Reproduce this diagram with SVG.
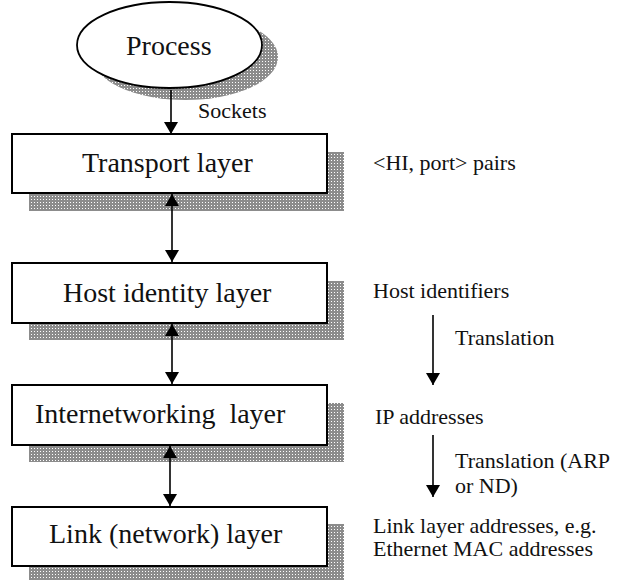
<svg xmlns="http://www.w3.org/2000/svg" width="620" height="580" viewBox="0 0 620 580">
<defs>
<pattern id="dots" width="3" height="3" patternUnits="userSpaceOnUse">
<rect width="3" height="3" fill="#8c8c8c"/>
<rect x="1" y="1" width="1" height="1" fill="#ffffff"/>
</pattern>
<marker id="ah" viewBox="0 0 12 14" refX="12" refY="7" markerWidth="12" markerHeight="14" markerUnits="userSpaceOnUse" orient="auto-start-reverse">
<path d="M0,0 L12,7 L0,14 Z" fill="#000"/>
</marker>
<style>
.shadow{fill:url(#dots);stroke:none}
.box{fill:#fff;stroke:#000;stroke-width:2}
.lbl{font-size:28px;fill:#111}
.note{font-size:22px;fill:#111}
.conn{stroke:#000;stroke-width:1.6;fill:none}
</style>
</defs>
<rect width="620" height="580" fill="#fff"/>
<g font-family="'Liberation Serif', 'DejaVu Serif', serif">
<g id="process">
<ellipse class="shadow" cx="185.5" cy="57" rx="92.5" ry="43"/>
<ellipse cx="169.5" cy="45" rx="92.5" ry="43" fill="#fff" stroke="#000" stroke-width="1.8"/>
<text class="lbl" x="126" y="55">Process</text>
</g>

<g id="transport">
<rect class="shadow" x="29" y="152" width="315" height="59"/>
<rect class="box" x="12" y="134" width="315" height="59"/>
<text class="lbl" x="82" y="172">Transport layer</text>
</g>

<g id="hostid">
<rect class="shadow" x="29" y="281" width="315" height="59"/>
<rect class="box" x="12" y="263" width="315" height="60"/>
<text class="lbl" x="63" y="302">Host identity layer</text>
</g>

<g id="internet">
<rect class="shadow" x="29" y="403" width="315" height="59"/>
<rect class="box" x="12" y="385" width="315" height="60"/>
<text class="lbl" x="35" y="423" xml:space="preserve">Internetworking  layer</text>
</g>

<g id="link">
<rect class="shadow" x="29" y="524" width="315" height="56"/>
<rect class="box" x="12" y="507" width="315" height="59"/>
<text class="lbl" x="49" y="543">Link (network) layer</text>
</g>

<g id="connectors">
<line class="conn" x1="171" y1="90" x2="171" y2="134" marker-end="url(#ah)"/>
<line class="conn" x1="172" y1="194" x2="172" y2="262" marker-start="url(#ah)" marker-end="url(#ah)"/>
<line class="conn" x1="172" y1="324" x2="172" y2="384" marker-start="url(#ah)" marker-end="url(#ah)"/>
<line class="conn" x1="170" y1="446" x2="170" y2="506" marker-start="url(#ah)" marker-end="url(#ah)"/>
<line class="conn" x1="433" y1="315" x2="433" y2="385" marker-end="url(#ah)"/>
<line class="conn" x1="433" y1="435" x2="433" y2="497" marker-end="url(#ah)"/>
</g>

<g id="labels">
<text class="note" x="198" y="118">Sockets</text>
<text class="note" x="373" y="170">&lt;HI, port&gt; pairs</text>
<text class="note" x="373" y="298">Host identifiers</text>
<text class="note" x="455" y="345">Translation</text>
<text class="note" x="375" y="424">IP addresses</text>
<text class="note" x="455" y="468">Translation (ARP</text>
<text class="note" x="455" y="493">or ND)</text>
<text class="note" x="373" y="533">Link layer addresses, e.g.</text>
<text class="note" x="373" y="556">Ethernet MAC addresses</text>
</g>
</g>
</svg>
